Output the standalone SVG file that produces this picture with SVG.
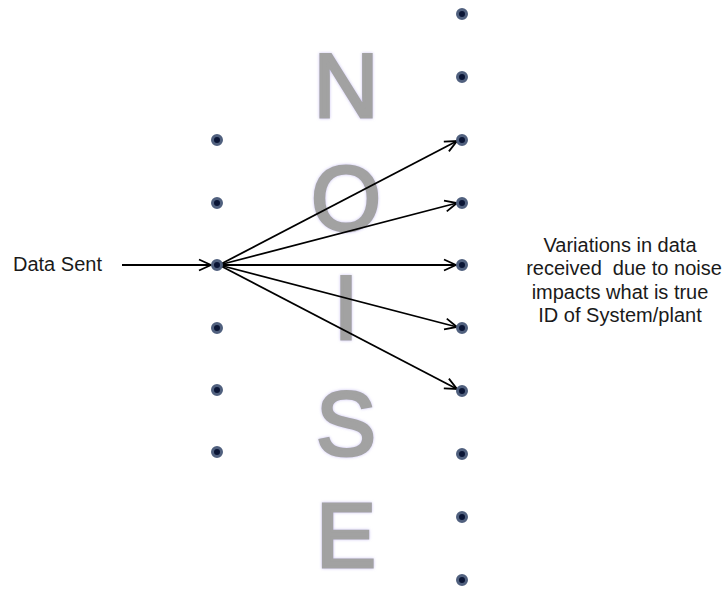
<svg xmlns="http://www.w3.org/2000/svg" width="725" height="594" viewBox="0 0 725 594">
<style>
.dot{fill:#0a1535;stroke:#50607e;stroke-width:3}
.noise{font-family:"Liberation Sans",Arial,sans-serif;font-size:90px;fill:#a2a2a2;stroke:#a2a2a2;stroke-width:3;text-anchor:middle}
.lbl{font-family:"Liberation Sans",Arial,sans-serif;font-size:20px;fill:#1a1a1a;white-space:pre}
.conn{stroke:#000;stroke-width:1.8;fill:none;marker-end:url(#ah)}
</style>
<defs>
<marker id="ah" viewBox="0 0 14 14" refX="13" refY="7" markerWidth="14" markerHeight="14" markerUnits="userSpaceOnUse" orient="auto">
<path d="M1,1.5 L13,7 L1,12.5" fill="none" stroke="#000" stroke-width="1.8"/>
</marker>
<filter id="glow" x="-20%" y="-20%" width="140%" height="140%">
<feGaussianBlur in="SourceAlpha" stdDeviation="2"/>
<feOffset dy="2"/>
<feFlood flood-color="#cbc2f2"/>
<feComposite operator="in" in2="SourceAlpha"/>
<feGaussianBlur stdDeviation="1.5"/>
<feMerge><feMergeNode/><feMergeNode in="SourceGraphic"/></feMerge>
</filter>
</defs>
<rect width="725" height="594" fill="#fff"/>
<g id="noise-text" filter="url(#glow)">
<text class="noise" x="346" y="117">N</text>
<text class="noise" x="346" y="230">O</text>
<text class="noise" x="346" y="339">I</text>
<text class="noise" x="346" y="455">S</text>
<text class="noise" x="346" y="567">E</text>
</g>
<g id="connectors">
<line class="conn" x1="122" y1="265" x2="211" y2="265"/>
<line class="conn" x1="219" y1="265" x2="457" y2="141"/>
<line class="conn" x1="219" y1="265" x2="457" y2="203"/>
<line class="conn" x1="219" y1="265" x2="456" y2="265"/>
<line class="conn" x1="219" y1="265" x2="457" y2="327"/>
<line class="conn" x1="219" y1="265" x2="457" y2="389"/>
</g>
<g id="sent-dots">
<circle class="dot" cx="217" cy="140" r="4.5"/>
<circle class="dot" cx="217" cy="203" r="4.5"/>
<circle class="dot" cx="217" cy="265" r="4.5"/>
<circle class="dot" cx="217" cy="328" r="4.5"/>
<circle class="dot" cx="217" cy="390" r="4.5"/>
<circle class="dot" cx="217" cy="452" r="4.5"/>
</g>
<g id="received-dots">
<circle class="dot" cx="462" cy="14" r="4.5"/>
<circle class="dot" cx="462" cy="77" r="4.5"/>
<circle class="dot" cx="462" cy="140" r="4.5"/>
<circle class="dot" cx="462" cy="203" r="4.5"/>
<circle class="dot" cx="462" cy="265" r="4.5"/>
<circle class="dot" cx="462" cy="328" r="4.5"/>
<circle class="dot" cx="462" cy="391" r="4.5"/>
<circle class="dot" cx="462" cy="454" r="4.5"/>
<circle class="dot" cx="462" cy="517" r="4.5"/>
<circle class="dot" cx="462" cy="580" r="4.5"/>
</g>
<g id="data-sent">
<text class="lbl" x="13" y="271">Data Sent</text>
</g>
<g id="result-label">
<text class="lbl" text-anchor="middle" x="620" y="252">Variations in data</text>
<text class="lbl" text-anchor="middle" x="624" y="275">received  due to noise</text>
<text class="lbl" text-anchor="middle" x="620" y="299">impacts what is true</text>
<text class="lbl" text-anchor="middle" x="620" y="322">ID of System/plant</text>
</g>
</svg>
